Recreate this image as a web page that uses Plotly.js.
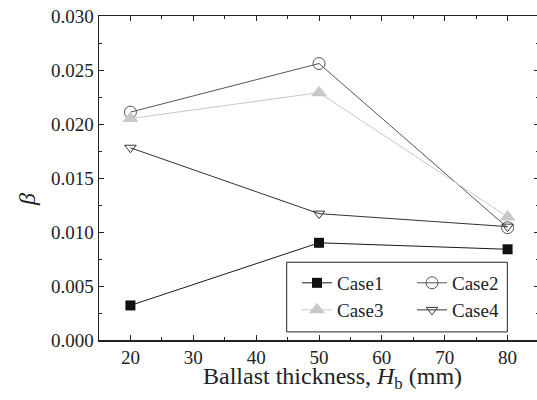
<!DOCTYPE html>
<html>
<head>
<meta charset="utf-8">
<script src="https://cdn.plot.ly/plotly-3.0.1.min.js"></script>
<style>
html,body{margin:0;padding:0;overflow:hidden;background:#fff;}
#chart{width:537px;height:400px;}
#chart svg text{font-family:"Liberation Serif","Times New Roman",serif !important;}
</style>
</head>
<body>
<div id="chart"></div>
<script>
const thickness = [20, 50, 80];
const case1 = [0.0032, 0.0090, 0.0084];
const case2 = [0.0211, 0.0256, 0.0104];
const case3 = [0.0205, 0.0229, 0.0114];
const case4 = [0.0178, 0.0117, 0.0105];
const seriesNames = ["Case1", "Case2", "Case3", "Case4"];
const xTicks = [20, 30, 40, 50, 60, 70, 80];
const yTicks = [0, 0.005, 0.010, 0.015, 0.020, 0.025, 0.030];

const fontFamily = "Liberation Serif";

const traces = [
  {x: thickness, y: case1, name: seriesNames[0], mode: "lines+markers", legend: "legend",
   line: {color: "#1a1a1a", width: 1},
   marker: {symbol: "square", size: 10, color: "#111"}},
  {x: thickness, y: case2, name: seriesNames[1], mode: "lines+markers", legend: "legend",
   line: {color: "#555", width: 1},
   marker: {symbol: "circle-open", size: 12, color: "#555", line: {width: 1}}},
  {x: thickness, y: case3, name: seriesNames[2], mode: "lines+markers", legend: "legend2",
   line: {color: "#c8c8c8", width: 1},
   marker: {symbol: "triangle-up", size: 14, color: "#c8c8c8"}},
  {x: thickness, y: case4, name: seriesNames[3], mode: "lines+markers", legend: "legend2",
   line: {color: "#333", width: 1},
   marker: {symbol: "triangle-down-open", size: 10, color: "#333", line: {width: 1}}}
];

const legendBase = {
  orientation: "h", xanchor: "left", yanchor: "middle",
  bgcolor: "rgba(0,0,0,0)", borderwidth: 0,
  entrywidth: 70, itemwidth: 30,
  font: {family: fontFamily, size: 19, color: "#222"}
};

const layout = {
  width: 540, height: 400,
  margin: {l: 99, r: 1, t: 16, b: 60, autoexpand: false},
  paper_bgcolor: "#fff", plot_bgcolor: "#fff",
  font: {family: fontFamily, size: 19, color: "#222"},
  showlegend: true,
  legend: Object.assign({}, legendBase, {x: 0.45, y: 0.176}),
  legend2: Object.assign({}, legendBase, {x: 0.45, y: 0.0926}),
  shapes: [
    {type: "rect", xref: "paper", yref: "paper", x0: 0.4266, x1: 0.928, y0: 0.025, y1: 0.24,
     line: {color: "#222", width: 1}, fillcolor: "#fff", layer: "below"}
  ],
  xaxis: {
    range: [15, 85], tickvals: xTicks, ticktext: xTicks.map(String),
    ticks: "inside", ticklen: 5, tickwidth: 1, tickcolor: "#222",
    showline: true, linecolor: "#222", linewidth: 1.5, mirror: "allticks",
    showgrid: false, zeroline: false, automargin: false,
    minor: {dtick: 5, tick0: 15, ticks: "inside", ticklen: 3, tickcolor: "#222", showgrid: false},
    tickfont: {family: fontFamily, size: 19, color: "#222"}
  },
  yaxis: {
    range: [0, 0.030], tickvals: yTicks, ticktext: yTicks.map(v => v.toFixed(3)),
    ticks: "inside", ticklen: 5, tickwidth: 1, tickcolor: "#222",
    showline: true, linecolor: "#222", linewidth: 1.5, mirror: "allticks",
    showgrid: false, zeroline: false, automargin: false,
    minor: {dtick: 0.0025, tick0: 0, ticks: "inside", ticklen: 3, tickcolor: "#222", showgrid: false},
    tickfont: {family: fontFamily, size: 19, color: "#222"}
  },
  annotations: [
    {text: "Ballast thickness, <i>H</i><sub>b</sub> (mm)", xref: "paper", yref: "paper",
     x: 0.53, y: -0.117, xanchor: "center", yanchor: "middle", showarrow: false,
     font: {family: fontFamily, size: 24, color: "#222"}},
    {text: "<i>β</i>", xref: "paper", yref: "paper", x: -0.1636, y: 0.432,
     xanchor: "center", yanchor: "middle", textangle: -90, showarrow: false,
     font: {family: fontFamily, size: 24, color: "#222"}}
  ]
};

Plotly.newPlot("chart", traces, layout, {displayModeBar: false, staticPlot: true});
</script>
</body>
</html>
